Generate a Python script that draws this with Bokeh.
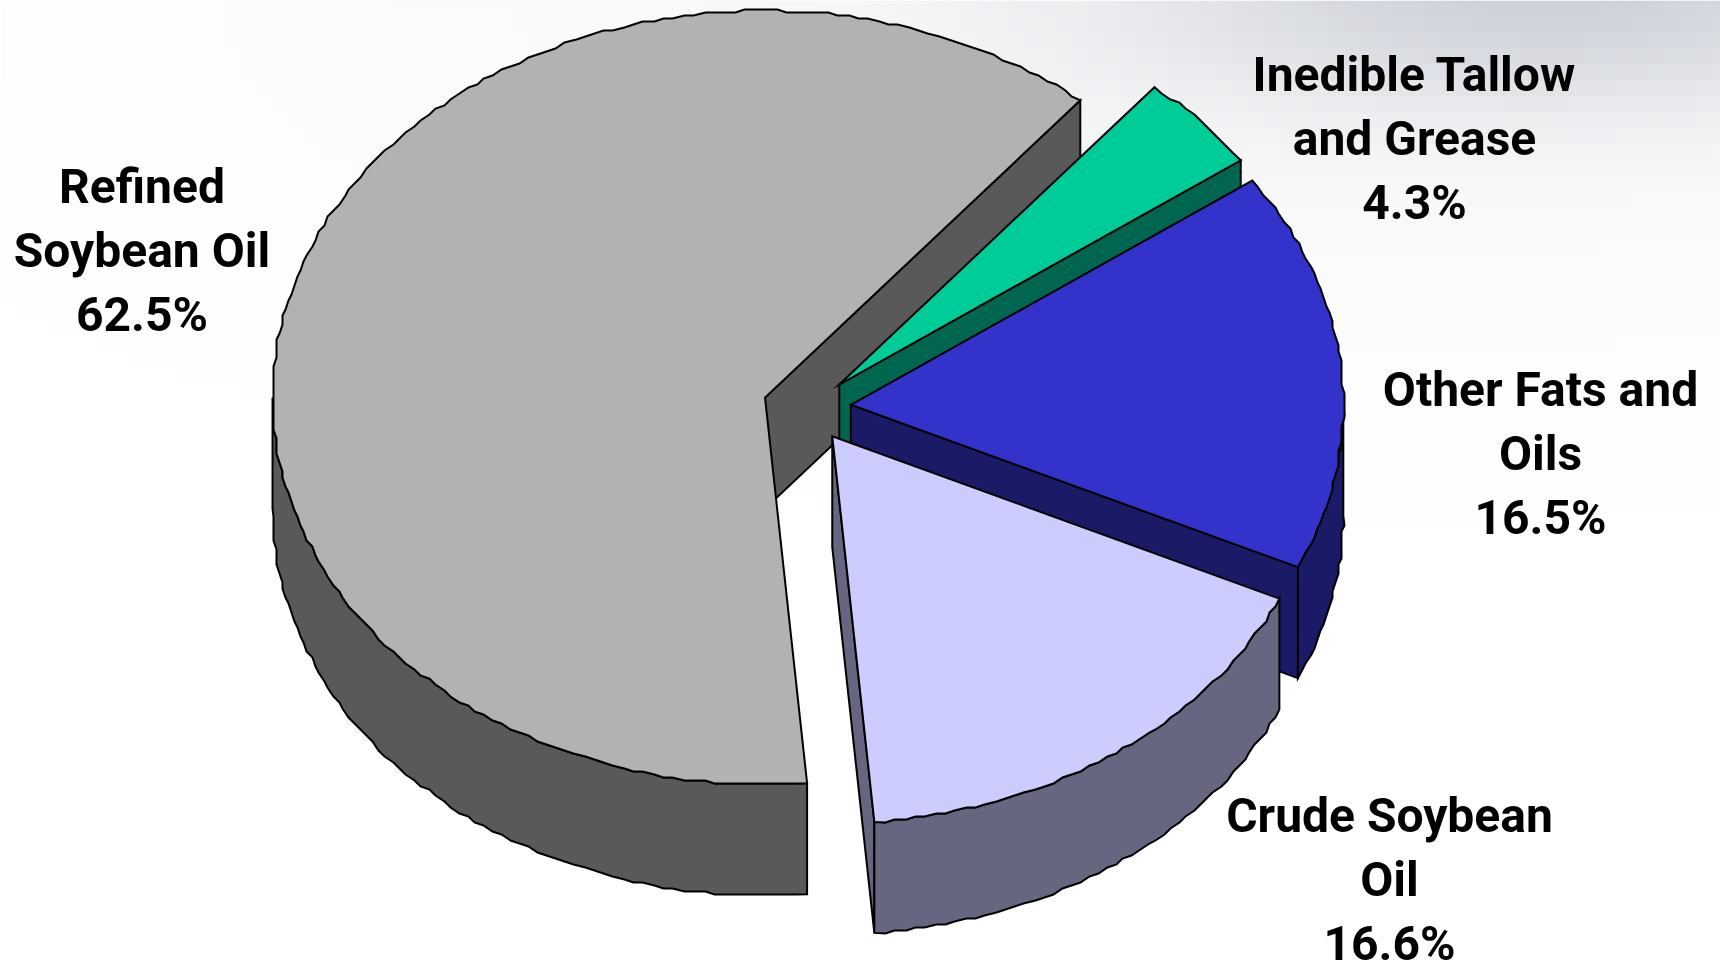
import numpy as np
from bokeh.plotting import figure
from bokeh.models import Range1d
from bokeh.core.properties import value
from bokeh.embed import file_html
from bokeh.resources import INLINE

# ---- data ----
categories = ["Inedible Tallow\nand Grease", "Other Fats and\nOils", "Crude Soybean\nOil", "Refined\nSoybean Oil"]
shares = [4.3, 16.5, 16.6, 62.5]
# slice sweeps in degrees as actually drawn in the picture
sweeps = [14.8, 60.2, 60.3, 224.7]
top_colors = ["#00CC99", "#3333CC", "#CCCCFF", "#B2B2B2"]
side_colors = ["#006650", "#1A1A66", "#666680", "#595959"]

# ---- layout ----
CX, CY, RX, RY, DEPTH = 806.5, 407.5, 492.5, 387.0, 111.0
EXPLODE = 44.0
START = 39.8
GRID = 3.0
FONT_PX = 48
LINE_GAP = 64
LABEL_POS = [(1414, 73.5), (1540, 388.5), (1389, 814.5), (141.5, 185.5)]

W, H = 1720, 965
p = figure(width=W, height=H, x_range=Range1d(0, W), y_range=Range1d(H, 0),
           output_backend="svg", toolbar_location=None, min_border=0,
           x_axis_type=None, y_axis_type=None)
p.grid.visible = False
p.outline_line_color = None
p.background_fill_color = "white"
p.border_fill_color = "white"
p.styles = {"position": "fixed", "left": "0px", "top": "0px"}

# soft backdrop in the upper right corner
cell = 16
xs = np.arange(0, W, cell)
ys = np.arange(0, H, cell)
gx, gy = np.meshgrid(xs, ys)
gx, gy = gx.ravel().astype(float), gy.ravel().astype(float)
fall = 40 * np.exp(-(((gx + cell / 2 - 1560) / 420) ** 2 + ((gy + cell / 2) / 110) ** 2))
fall += 9 * np.exp(-(((gx + cell / 2 - 1300) / 900) ** 2 + ((gy + cell / 2) / 300) ** 2))
keep = fall > 0.4
gx, gy, fall = gx[keep], gy[keep], fall[keep]
shade = [f"#{int(255 - f):02x}{int(255 - f * 0.93):02x}{int(255 - f * 0.78):02x}" for f in fall]
p.quad(left=gx, right=gx + cell + 1, top=gy, bottom=gy + cell + 1, fill_color=shade, line_color=None)


def pt(cx, cy, ang):
    a = np.radians(ang)
    return cx + RX * np.sin(a), cy - RY * np.cos(a)


def arc(cx, cy, a, b):
    n = max(2, int(abs(b - a) / 1.2) + 1)
    ang = np.linspace(a, b, n)
    x, y = pt(cx, cy, ang)
    x, y = np.round(x / GRID) * GRID, np.round(y / GRID) * GRID
    x[0], y[0] = pt(cx, cy, a)
    x[-1], y[-1] = pt(cx, cy, b)
    return x, y


def patch(x, y, color):
    p.patch(x, y, fill_color=color, line_color="black", line_width=2, line_join="miter")


edges = START + np.concatenate([[0], np.cumsum(sweeps)])
order = [3, 0, 1, 2]
for i in order:
    a, b = edges[i], edges[i + 1]
    mid = np.radians((a + b) / 2)
    ax = CX + EXPLODE * np.sin(mid)
    ay = CY - EXPLODE * RY / RX * np.cos(mid)
    # inner cut face at clockwise end of slice
    ex, ey = pt(ax, ay, b)
    patch([ax, ex, ex, ax], [ay, ey, ey + DEPTH, ay + DEPTH], side_colors[i])
    # outer wall on the near half
    lo, hi = max(a, 90), min(b, 270)
    if hi > lo:
        x, y = arc(ax, ay, lo, hi)
        patch(np.concatenate([x, x[::-1]]), np.concatenate([y, y[::-1] + DEPTH]), side_colors[i])
    # top
    x, y = arc(ax, ay, a, b)
    patch(np.concatenate([[ax], x]), np.concatenate([[ay], y]), top_colors[i])

for cat, s, (lx, ly) in zip(categories, shares, LABEL_POS):
    lines = cat.split("\n") + [f"{s}%"]
    p.text([lx] * len(lines), [ly + k * LINE_GAP for k in range(len(lines))], text=lines,
           text_align="center", text_baseline="alphabetic",
           text_font=value("Roboto"), text_font_style="bold",
           text_font_size=f"{FONT_PX}px", text_color="black")

open("out.html", "w").write(file_html(p, INLINE))
